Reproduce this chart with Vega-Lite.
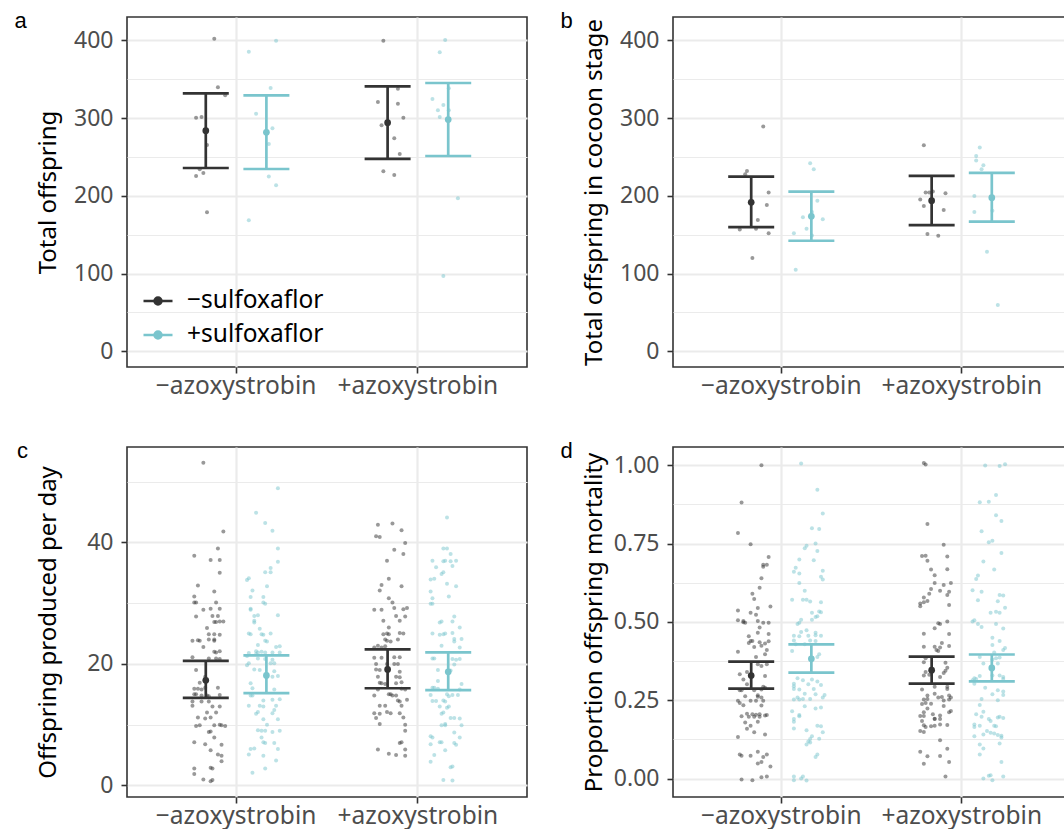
{
"$schema": "https://vega.github.io/schema/vega-lite/v6.json",
"padding": {"left": 13, "top": 9, "right": 0, "bottom": 0},
"config": {
 "font": "Noto Sans",
 "view": {"stroke": "#333333", "strokeWidth": 1.6},
 "axis": {"domain": false, "labelFont": "Noto Sans", "labelFontSize": 23, "labelColor": "#4D4D4D", "tickColor": "#333333", "tickSize": 6, "tickWidth": 1.6, "gridColor": "#EBEBEB", "titleFont": "Noto Sans", "titleFontSize": 24, "titleFontWeight": "normal", "titleColor": "#000000", "labelFlush": false, "labelOverlap": false},
 "axisX": {"labelPadding": 1, "gridWidth": 2.2, "labelFontSize": 24.5},
 "axisY": {"labelPadding": 8, "minExtent": 60, "maxExtent": 60, "titlePadding": 7}
},
"spacing": {"row": 40, "column": 31},
"columns": 2,
"resolve": {"scale": {"fill": "independent", "stroke": "independent"}, "legend": {"fill": "independent"}},
"datasets": {
"sum": [
{"p":"a","a":"−","s":"−","m":283.8,"lo":235.8,"hi":331.8},
{"p":"a","a":"−","s":"+","m":281.7,"lo":234.5,"hi":329.3},
{"p":"a","a":"+","s":"−","m":294.1,"lo":247.4,"hi":340.8},
{"p":"a","a":"+","s":"+","m":298.0,"lo":251.2,"hi":345.1},
{"p":"b","a":"−","s":"−","m":191.6,"lo":159.8,"hi":224.7},
{"p":"b","a":"−","s":"+","m":173.6,"lo":142.2,"hi":205.4},
{"p":"b","a":"+","s":"−","m":193.8,"lo":162.4,"hi":225.6},
{"p":"b","a":"+","s":"+","m":197.6,"lo":166.7,"hi":229.4},
{"p":"c","a":"−","s":"−","m":17.3,"lo":14.4,"hi":20.5},
{"p":"c","a":"−","s":"+","m":18.1,"lo":15.2,"hi":21.4},
{"p":"c","a":"+","s":"−","m":19.1,"lo":16.0,"hi":22.4},
{"p":"c","a":"+","s":"+","m":18.7,"lo":15.7,"hi":21.9},
{"p":"d","a":"−","s":"−","m":0.329,"lo":0.287,"hi":0.373},
{"p":"d","a":"−","s":"+","m":0.382,"lo":0.338,"hi":0.428},
{"p":"d","a":"+","s":"−","m":0.346,"lo":0.303,"hi":0.389},
{"p":"d","a":"+","s":"+","m":0.353,"lo":0.310,"hi":0.396}
],
"pts": [
{"p":"a","a":"−","s":"−","v":402.1,"j":0.03},{"p":"a","a":"−","s":"−","v":339.6,"j":0.05},{"p":"a","a":"−","s":"−","v":329.3,"j":0.09},{"p":"a","a":"−","s":"−","v":300.5,"j":-0.07},{"p":"a","a":"−","s":"−","v":301.4,"j":-0.04},{"p":"a","a":"−","s":"−","v":265.4,"j":-0.01},{"p":"a","a":"−","s":"−","v":234.1,"j":-0.05},{"p":"a","a":"−","s":"−","v":229.4,"j":-0.03},{"p":"a","a":"−","s":"−","v":225.5,"j":-0.07},{"p":"a","a":"−","s":"−","v":178.8,"j":-0.01},
{"p":"a","a":"−","s":"+","v":385.4,"j":-0.08},{"p":"a","a":"−","s":"+","v":399.6,"j":0.07},{"p":"a","a":"−","s":"+","v":338.7,"j":0.04},{"p":"a","a":"−","s":"+","v":305.7,"j":-0.04},{"p":"a","a":"−","s":"+","v":286.8,"j":0.05},{"p":"a","a":"−","s":"+","v":266.7,"j":0.03},{"p":"a","a":"−","s":"+","v":224.7,"j":0.03},{"p":"a","a":"−","s":"+","v":213.5,"j":0.07},{"p":"a","a":"−","s":"+","v":168.5,"j":-0.08},
{"p":"a","a":"+","s":"−","v":399.6,"j":-0.04},{"p":"a","a":"+","s":"−","v":337.8,"j":0.04},{"p":"a","a":"+","s":"−","v":320.7,"j":-0.07},{"p":"a","a":"+","s":"−","v":318.5,"j":0.04},{"p":"a","a":"+","s":"−","v":300.5,"j":0.07},{"p":"a","a":"+","s":"−","v":290.7,"j":-0.05},{"p":"a","a":"+","s":"−","v":274.0,"j":0.02},{"p":"a","a":"+","s":"−","v":253.8,"j":0.05},{"p":"a","a":"+","s":"−","v":231.5,"j":-0.04},{"p":"a","a":"+","s":"−","v":226.8,"j":0.02},
{"p":"a","a":"+","s":"+","v":400.4,"j":0.0},{"p":"a","a":"+","s":"+","v":384.6,"j":-0.03},{"p":"a","a":"+","s":"+","v":338.3,"j":0.02},{"p":"a","a":"+","s":"+","v":324.5,"j":-0.07},{"p":"a","a":"+","s":"+","v":316.8,"j":-0.01},{"p":"a","a":"+","s":"+","v":310.0,"j":-0.04},{"p":"a","a":"+","s":"+","v":310.0,"j":0.02},{"p":"a","a":"+","s":"+","v":301.4,"j":-0.03},{"p":"a","a":"+","s":"+","v":196.8,"j":0.07},{"p":"a","a":"+","s":"+","v":96.9,"j":-0.01},
{"p":"b","a":"−","s":"−","v":289.2,"j":0.05},{"p":"b","a":"−","s":"−","v":232.0,"j":-0.04},{"p":"b","a":"−","s":"−","v":227.7,"j":-0.05},{"p":"b","a":"−","s":"−","v":204.1,"j":0.08},{"p":"b","a":"−","s":"−","v":188.2,"j":0.07},{"p":"b","a":"−","s":"−","v":168.8,"j":0.02},{"p":"b","a":"−","s":"−","v":156.8,"j":-0.08},{"p":"b","a":"−","s":"−","v":157.7,"j":0.01},{"p":"b","a":"−","s":"−","v":151.7,"j":0.08},{"p":"b","a":"−","s":"−","v":119.9,"j":-0.01},
{"p":"b","a":"−","s":"+","v":241.9,"j":0.01},{"p":"b","a":"−","s":"+","v":234.2,"j":0.03},{"p":"b","a":"−","s":"+","v":193.8,"j":0.05},{"p":"b","a":"−","s":"+","v":179.2,"j":0.02},{"p":"b","a":"−","s":"+","v":172.3,"j":-0.03},{"p":"b","a":"−","s":"+","v":169.7,"j":0.08},{"p":"b","a":"−","s":"+","v":151.7,"j":-0.08},{"p":"b","a":"−","s":"+","v":157.7,"j":-0.01},{"p":"b","a":"−","s":"+","v":149.1,"j":0.02},{"p":"b","a":"−","s":"+","v":104.8,"j":-0.07},
{"p":"b","a":"+","s":"−","v":265.1,"j":-0.06},{"p":"b","a":"+","s":"−","v":204.1,"j":-0.05},{"p":"b","a":"+","s":"−","v":204.1,"j":-0.03},{"p":"b","a":"+","s":"−","v":205.4,"j":-0.01},{"p":"b","a":"+","s":"−","v":203.2,"j":0.06},{"p":"b","a":"+","s":"−","v":195.1,"j":-0.08},{"p":"b","a":"+","s":"−","v":186.9,"j":-0.06},{"p":"b","a":"+","s":"−","v":181.7,"j":0.05},{"p":"b","a":"+","s":"−","v":150.8,"j":-0.04},{"p":"b","a":"+","s":"−","v":148.7,"j":0.02},
{"p":"b","a":"+","s":"+","v":262.1,"j":-0.05},{"p":"b","a":"+","s":"+","v":251.3,"j":-0.07},{"p":"b","a":"+","s":"+","v":245.3,"j":-0.07},{"p":"b","a":"+","s":"+","v":239.3,"j":-0.03},{"p":"b","a":"+","s":"+","v":234.2,"j":-0.04},{"p":"b","a":"+","s":"+","v":199.8,"j":-0.08},{"p":"b","a":"+","s":"+","v":180.9,"j":0.02},{"p":"b","a":"+","s":"+","v":179.2,"j":-0.08},{"p":"b","a":"+","s":"+","v":128.0,"j":-0.01},{"p":"b","a":"+","s":"+","v":59.7,"j":0.05},
{"p":"c","a":"−","s":"−","v":53.1,"j":-0.03},{"p":"c","a":"−","s":"−","v":41.8,"j":0.08},{"p":"c","a":"−","s":"−","v":39.0,"j":0.05},{"p":"c","a":"−","s":"−","v":37.8,"j":-0.08},{"p":"c","a":"−","s":"−","v":37.1,"j":0.01},{"p":"c","a":"−","s":"−","v":37.1,"j":0.06},{"p":"c","a":"−","s":"−","v":35.0,"j":0.06},{"p":"c","a":"−","s":"−","v":32.9,"j":-0.06},{"p":"c","a":"−","s":"−","v":31.9,"j":0.03},{"p":"c","a":"−","s":"−","v":31.1,"j":-0.08},
{"p":"c","a":"−","s":"−","v":30.1,"j":-0.08},{"p":"c","a":"−","s":"−","v":30.1,"j":-0.07},{"p":"c","a":"−","s":"−","v":30.1,"j":0.04},{"p":"c","a":"−","s":"−","v":29.1,"j":0.01},{"p":"c","a":"−","s":"−","v":29.1,"j":0.06},{"p":"c","a":"−","s":"−","v":28.9,"j":-0.03},{"p":"c","a":"−","s":"−","v":27.9,"j":0.02},{"p":"c","a":"−","s":"−","v":27.9,"j":0.05},{"p":"c","a":"−","s":"−","v":27.8,"j":-0.07},{"p":"c","a":"−","s":"−","v":26.9,"j":0.03},
{"p":"c","a":"−","s":"−","v":26.9,"j":0.04},{"p":"c","a":"−","s":"−","v":27.0,"j":0.06},{"p":"c","a":"−","s":"−","v":27.0,"j":0.08},{"p":"c","a":"−","s":"−","v":25.9,"j":-0.01},{"p":"c","a":"−","s":"−","v":24.9,"j":0.0},{"p":"c","a":"−","s":"−","v":24.9,"j":0.03},{"p":"c","a":"−","s":"−","v":24.8,"j":0.06},{"p":"c","a":"−","s":"−","v":23.8,"j":-0.09},{"p":"c","a":"−","s":"−","v":23.9,"j":-0.06},{"p":"c","a":"−","s":"−","v":23.8,"j":-0.05},
{"p":"c","a":"−","s":"−","v":24.0,"j":0.0},{"p":"c","a":"−","s":"−","v":23.8,"j":0.03},{"p":"c","a":"−","s":"−","v":24.0,"j":0.03},{"p":"c","a":"−","s":"−","v":22.8,"j":-0.03},{"p":"c","a":"−","s":"−","v":22.0,"j":0.03},{"p":"c","a":"−","s":"−","v":21.9,"j":0.04},{"p":"c","a":"−","s":"−","v":22.1,"j":0.06},{"p":"c","a":"−","s":"−","v":20.9,"j":0.0},{"p":"c","a":"−","s":"−","v":20.9,"j":0.04},{"p":"c","a":"−","s":"−","v":20.8,"j":0.06},
{"p":"c","a":"−","s":"−","v":21.1,"j":-0.09},{"p":"c","a":"−","s":"−","v":19.0,"j":-0.07},{"p":"c","a":"−","s":"−","v":17.9,"j":-0.02},{"p":"c","a":"−","s":"−","v":17.4,"j":-0.02},{"p":"c","a":"−","s":"−","v":16.9,"j":-0.05},{"p":"c","a":"−","s":"−","v":15.9,"j":-0.08},{"p":"c","a":"−","s":"−","v":15.9,"j":-0.06},{"p":"c","a":"−","s":"−","v":15.8,"j":-0.04},{"p":"c","a":"−","s":"−","v":16.1,"j":-0.02},{"p":"c","a":"−","s":"−","v":16.1,"j":0.05},
{"p":"c","a":"−","s":"−","v":15.0,"j":-0.08},{"p":"c","a":"−","s":"−","v":15.0,"j":-0.07},{"p":"c","a":"−","s":"−","v":14.8,"j":-0.04},{"p":"c","a":"−","s":"−","v":14.8,"j":-0.01},{"p":"c","a":"−","s":"−","v":14.7,"j":0.0},{"p":"c","a":"−","s":"−","v":14.9,"j":0.06},{"p":"c","a":"−","s":"−","v":13.8,"j":-0.09},{"p":"c","a":"−","s":"−","v":13.8,"j":-0.04},{"p":"c","a":"−","s":"−","v":13.8,"j":0.0},{"p":"c","a":"−","s":"−","v":13.0,"j":0.02},
{"p":"c","a":"−","s":"−","v":13.0,"j":0.06},{"p":"c","a":"−","s":"−","v":13.1,"j":-0.09},{"p":"c","a":"−","s":"−","v":12.0,"j":-0.01},{"p":"c","a":"−","s":"−","v":12.0,"j":0.04},{"p":"c","a":"−","s":"−","v":11.2,"j":-0.06},{"p":"c","a":"−","s":"−","v":11.2,"j":0.01},{"p":"c","a":"−","s":"−","v":11.0,"j":-0.02},{"p":"c","a":"−","s":"−","v":9.9,"j":-0.05},{"p":"c","a":"−","s":"−","v":9.8,"j":-0.07},{"p":"c","a":"−","s":"−","v":9.9,"j":0.03},
{"p":"c","a":"−","s":"−","v":10.0,"j":0.06},{"p":"c","a":"−","s":"−","v":9.9,"j":0.07},{"p":"c","a":"−","s":"−","v":9.8,"j":0.09},{"p":"c","a":"−","s":"−","v":8.8,"j":0.0},{"p":"c","a":"−","s":"−","v":8.9,"j":0.01},{"p":"c","a":"−","s":"−","v":7.9,"j":0.03},{"p":"c","a":"−","s":"−","v":7.1,"j":-0.08},{"p":"c","a":"−","s":"−","v":6.8,"j":-0.02},{"p":"c","a":"−","s":"−","v":6.7,"j":0.07},{"p":"c","a":"−","s":"−","v":5.8,"j":0.01},
{"p":"c","a":"−","s":"−","v":5.1,"j":0.05},{"p":"c","a":"−","s":"−","v":4.9,"j":0.07},{"p":"c","a":"−","s":"−","v":4.0,"j":0.07},{"p":"c","a":"−","s":"−","v":2.8,"j":-0.08},{"p":"c","a":"−","s":"−","v":1.9,"j":-0.08},{"p":"c","a":"−","s":"−","v":2.9,"j":0.01},{"p":"c","a":"−","s":"−","v":2.8,"j":0.02},{"p":"c","a":"−","s":"−","v":1.0,"j":-0.03},{"p":"c","a":"−","s":"−","v":0.7,"j":0.01},{"p":"c","a":"−","s":"−","v":0.9,"j":0.02},
{"p":"c","a":"−","s":"+","v":48.9,"j":0.08},{"p":"c","a":"−","s":"+","v":44.9,"j":-0.04},{"p":"c","a":"−","s":"+","v":43.2,"j":0.01},{"p":"c","a":"−","s":"+","v":41.9,"j":0.05},{"p":"c","a":"−","s":"+","v":39.0,"j":0.08},{"p":"c","a":"−","s":"+","v":36.8,"j":0.08},{"p":"c","a":"−","s":"+","v":35.8,"j":0.04},{"p":"c","a":"−","s":"+","v":35.1,"j":0.01},{"p":"c","a":"−","s":"+","v":35.1,"j":0.04},{"p":"c","a":"−","s":"+","v":34.1,"j":-0.08},
{"p":"c","a":"−","s":"+","v":33.8,"j":-0.09},{"p":"c","a":"−","s":"+","v":32.8,"j":0.02},{"p":"c","a":"−","s":"+","v":32.1,"j":-0.06},{"p":"c","a":"−","s":"+","v":31.0,"j":-0.07},{"p":"c","a":"−","s":"+","v":31.0,"j":0.0},{"p":"c","a":"−","s":"+","v":30.1,"j":0.0},{"p":"c","a":"−","s":"+","v":29.9,"j":0.01},{"p":"c","a":"−","s":"+","v":29.1,"j":-0.07},{"p":"c","a":"−","s":"+","v":28.9,"j":-0.07},{"p":"c","a":"−","s":"+","v":28.0,"j":0.08},
{"p":"c","a":"−","s":"+","v":28.0,"j":-0.03},{"p":"c","a":"−","s":"+","v":27.9,"j":-0.05},{"p":"c","a":"−","s":"+","v":27.1,"j":-0.05},{"p":"c","a":"−","s":"+","v":26.8,"j":-0.05},{"p":"c","a":"−","s":"+","v":25.8,"j":-0.02},{"p":"c","a":"−","s":"+","v":25.0,"j":-0.08},{"p":"c","a":"−","s":"+","v":24.9,"j":-0.07},{"p":"c","a":"−","s":"+","v":24.9,"j":-0.01},{"p":"c","a":"−","s":"+","v":24.8,"j":0.0},{"p":"c","a":"−","s":"+","v":25.0,"j":0.04},
{"p":"c","a":"−","s":"+","v":23.8,"j":0.01},{"p":"c","a":"−","s":"+","v":23.7,"j":0.02},{"p":"c","a":"−","s":"+","v":23.1,"j":-0.03},{"p":"c","a":"−","s":"+","v":22.8,"j":0.07},{"p":"c","a":"−","s":"+","v":22.9,"j":0.09},{"p":"c","a":"−","s":"+","v":22.1,"j":-0.04},{"p":"c","a":"−","s":"+","v":21.9,"j":-0.03},{"p":"c","a":"−","s":"+","v":22.0,"j":-0.01},{"p":"c","a":"−","s":"+","v":21.9,"j":0.01},{"p":"c","a":"−","s":"+","v":21.6,"j":-0.04},
{"p":"c","a":"−","s":"+","v":21.3,"j":-0.09},{"p":"c","a":"−","s":"+","v":21.8,"j":-0.08},{"p":"c","a":"−","s":"+","v":21.9,"j":0.05},{"p":"c","a":"−","s":"+","v":21.9,"j":0.09},{"p":"c","a":"−","s":"+","v":20.9,"j":-0.03},{"p":"c","a":"−","s":"+","v":20.8,"j":0.01},{"p":"c","a":"−","s":"+","v":20.7,"j":0.05},{"p":"c","a":"−","s":"+","v":19.8,"j":-0.09},{"p":"c","a":"−","s":"+","v":20.1,"j":-0.08},{"p":"c","a":"−","s":"+","v":20.1,"j":0.04},
{"p":"c","a":"−","s":"+","v":20.1,"j":0.06},{"p":"c","a":"−","s":"+","v":19.1,"j":-0.05},{"p":"c","a":"−","s":"+","v":19.0,"j":-0.02},{"p":"c","a":"−","s":"+","v":18.8,"j":0.06},{"p":"c","a":"−","s":"+","v":18.0,"j":0.02},{"p":"c","a":"−","s":"+","v":17.9,"j":0.05},{"p":"c","a":"−","s":"+","v":18.0,"j":0.08},{"p":"c","a":"−","s":"+","v":16.8,"j":-0.07},{"p":"c","a":"−","s":"+","v":16.0,"j":-0.06},{"p":"c","a":"−","s":"+","v":15.8,"j":0.06},
{"p":"c","a":"−","s":"+","v":14.8,"j":-0.07},{"p":"c","a":"−","s":"+","v":14.8,"j":-0.06},{"p":"c","a":"−","s":"+","v":14.1,"j":0.05},{"p":"c","a":"−","s":"+","v":14.2,"j":0.09},{"p":"c","a":"−","s":"+","v":14.0,"j":0.0},{"p":"c","a":"−","s":"+","v":13.1,"j":-0.08},{"p":"c","a":"−","s":"+","v":13.1,"j":-0.02},{"p":"c","a":"−","s":"+","v":13.0,"j":0.0},{"p":"c","a":"−","s":"+","v":13.1,"j":0.07},{"p":"c","a":"−","s":"+","v":12.4,"j":0.06},
{"p":"c","a":"−","s":"+","v":11.8,"j":-0.04},{"p":"c","a":"−","s":"+","v":12.1,"j":-0.03},{"p":"c","a":"−","s":"+","v":10.9,"j":0.0},{"p":"c","a":"−","s":"+","v":11.9,"j":0.05},{"p":"c","a":"−","s":"+","v":10.9,"j":0.08},{"p":"c","a":"−","s":"+","v":10.0,"j":0.02},{"p":"c","a":"−","s":"+","v":9.1,"j":-0.03},{"p":"c","a":"−","s":"+","v":9.0,"j":-0.01},{"p":"c","a":"−","s":"+","v":9.0,"j":0.01},{"p":"c","a":"−","s":"+","v":8.8,"j":0.05},
{"p":"c","a":"−","s":"+","v":9.0,"j":0.09},{"p":"c","a":"−","s":"+","v":7.9,"j":-0.01},{"p":"c","a":"−","s":"+","v":7.1,"j":0.0},{"p":"c","a":"−","s":"+","v":7.0,"j":0.01},{"p":"c","a":"−","s":"+","v":7.0,"j":0.06},{"p":"c","a":"−","s":"+","v":6.0,"j":-0.07},{"p":"c","a":"−","s":"+","v":6.1,"j":-0.05},{"p":"c","a":"−","s":"+","v":5.1,"j":-0.08},{"p":"c","a":"−","s":"+","v":6.0,"j":0.08},{"p":"c","a":"−","s":"+","v":4.9,"j":0.0},
{"p":"c","a":"−","s":"+","v":4.1,"j":0.07},{"p":"c","a":"−","s":"+","v":2.8,"j":0.01},{"p":"c","a":"−","s":"+","v":2.1,"j":-0.06},
{"p":"c","a":"+","s":"−","v":42.9,"j":-0.07},{"p":"c","a":"+","s":"−","v":43.1,"j":0.01},{"p":"c","a":"+","s":"−","v":42.0,"j":0.06},{"p":"c","a":"+","s":"−","v":41.0,"j":-0.08},{"p":"c","a":"+","s":"−","v":40.9,"j":-0.06},{"p":"c","a":"+","s":"−","v":39.9,"j":0.08},{"p":"c","a":"+","s":"−","v":38.8,"j":0.02},{"p":"c","a":"+","s":"−","v":38.1,"j":0.07},{"p":"c","a":"+","s":"−","v":37.0,"j":-0.02},{"p":"c","a":"+","s":"−","v":34.0,"j":-0.01},
{"p":"c","a":"+","s":"−","v":33.0,"j":-0.05},{"p":"c","a":"+","s":"−","v":32.1,"j":-0.06},{"p":"c","a":"+","s":"−","v":32.8,"j":0.06},{"p":"c","a":"+","s":"−","v":30.8,"j":-0.01},{"p":"c","a":"+","s":"−","v":30.1,"j":0.01},{"p":"c","a":"+","s":"−","v":28.9,"j":-0.09},{"p":"c","a":"+","s":"−","v":28.9,"j":-0.05},{"p":"c","a":"+","s":"−","v":29.2,"j":0.02},{"p":"c","a":"+","s":"−","v":29.0,"j":0.07},{"p":"c","a":"+","s":"−","v":29.2,"j":0.09},
{"p":"c","a":"+","s":"−","v":27.9,"j":0.03},{"p":"c","a":"+","s":"−","v":27.8,"j":0.08},{"p":"c","a":"+","s":"−","v":27.1,"j":-0.04},{"p":"c","a":"+","s":"−","v":27.1,"j":0.05},{"p":"c","a":"+","s":"−","v":26.0,"j":-0.01},{"p":"c","a":"+","s":"−","v":24.9,"j":-0.04},{"p":"c","a":"+","s":"−","v":25.0,"j":-0.02},{"p":"c","a":"+","s":"−","v":24.9,"j":-0.01},{"p":"c","a":"+","s":"−","v":25.1,"j":0.05},{"p":"c","a":"+","s":"−","v":25.0,"j":0.07},
{"p":"c","a":"+","s":"−","v":24.0,"j":-0.03},{"p":"c","a":"+","s":"−","v":23.8,"j":-0.02},{"p":"c","a":"+","s":"−","v":23.7,"j":0.0},{"p":"c","a":"+","s":"−","v":24.0,"j":0.04},{"p":"c","a":"+","s":"−","v":22.7,"j":-0.09},{"p":"c","a":"+","s":"−","v":23.0,"j":-0.07},{"p":"c","a":"+","s":"−","v":22.7,"j":-0.05},{"p":"c","a":"+","s":"−","v":22.9,"j":-0.03},{"p":"c","a":"+","s":"−","v":21.0,"j":-0.09},{"p":"c","a":"+","s":"−","v":21.0,"j":-0.05},
{"p":"c","a":"+","s":"−","v":21.1,"j":0.02},{"p":"c","a":"+","s":"−","v":21.1,"j":0.05},{"p":"c","a":"+","s":"−","v":20.0,"j":-0.08},{"p":"c","a":"+","s":"−","v":20.0,"j":-0.02},{"p":"c","a":"+","s":"−","v":20.0,"j":0.02},{"p":"c","a":"+","s":"−","v":20.0,"j":0.04},{"p":"c","a":"+","s":"−","v":19.1,"j":-0.08},{"p":"c","a":"+","s":"−","v":19.0,"j":-0.06},{"p":"c","a":"+","s":"−","v":18.7,"j":0.05},{"p":"c","a":"+","s":"−","v":17.9,"j":-0.07},
{"p":"c","a":"+","s":"−","v":17.9,"j":0.03},{"p":"c","a":"+","s":"−","v":17.8,"j":0.05},{"p":"c","a":"+","s":"−","v":16.9,"j":-0.06},{"p":"c","a":"+","s":"−","v":16.8,"j":-0.05},{"p":"c","a":"+","s":"−","v":16.7,"j":-0.03},{"p":"c","a":"+","s":"−","v":16.8,"j":0.03},{"p":"c","a":"+","s":"−","v":17.0,"j":0.06},{"p":"c","a":"+","s":"−","v":15.8,"j":-0.07},{"p":"c","a":"+","s":"−","v":15.9,"j":0.06},{"p":"c","a":"+","s":"−","v":15.8,"j":0.08},
{"p":"c","a":"+","s":"−","v":14.8,"j":-0.09},{"p":"c","a":"+","s":"−","v":15.0,"j":-0.01},{"p":"c","a":"+","s":"−","v":15.0,"j":0.0},{"p":"c","a":"+","s":"−","v":14.8,"j":0.01},{"p":"c","a":"+","s":"−","v":14.8,"j":0.03},{"p":"c","a":"+","s":"−","v":14.0,"j":0.04},{"p":"c","a":"+","s":"−","v":13.8,"j":0.05},{"p":"c","a":"+","s":"−","v":14.1,"j":0.09},{"p":"c","a":"+","s":"−","v":13.1,"j":-0.06},{"p":"c","a":"+","s":"−","v":13.1,"j":-0.03},
{"p":"c","a":"+","s":"−","v":13.1,"j":0.06},{"p":"c","a":"+","s":"−","v":11.9,"j":-0.09},{"p":"c","a":"+","s":"−","v":11.8,"j":-0.06},{"p":"c","a":"+","s":"−","v":12.1,"j":-0.02},{"p":"c","a":"+","s":"−","v":11.9,"j":0.0},{"p":"c","a":"+","s":"−","v":11.9,"j":0.05},{"p":"c","a":"+","s":"−","v":11.1,"j":-0.08},{"p":"c","a":"+","s":"−","v":11.2,"j":0.07},{"p":"c","a":"+","s":"−","v":10.1,"j":-0.06},{"p":"c","a":"+","s":"−","v":10.0,"j":0.08},
{"p":"c","a":"+","s":"−","v":9.0,"j":0.08},{"p":"c","a":"+","s":"−","v":7.0,"j":0.05},{"p":"c","a":"+","s":"−","v":7.1,"j":0.06},{"p":"c","a":"+","s":"−","v":5.9,"j":-0.07},{"p":"c","a":"+","s":"−","v":5.9,"j":0.08},{"p":"c","a":"+","s":"−","v":5.2,"j":-0.01},{"p":"c","a":"+","s":"−","v":5.0,"j":0.03},{"p":"c","a":"+","s":"−","v":4.9,"j":0.08},
{"p":"c","a":"+","s":"+","v":44.1,"j":0.01},{"p":"c","a":"+","s":"+","v":39.0,"j":-0.01},{"p":"c","a":"+","s":"+","v":39.0,"j":0.01},{"p":"c","a":"+","s":"+","v":38.1,"j":0.03},{"p":"c","a":"+","s":"+","v":37.0,"j":-0.07},{"p":"c","a":"+","s":"+","v":36.9,"j":-0.01},{"p":"c","a":"+","s":"+","v":37.0,"j":0.0},{"p":"c","a":"+","s":"+","v":36.9,"j":0.03},{"p":"c","a":"+","s":"+","v":37.0,"j":0.06},{"p":"c","a":"+","s":"+","v":35.9,"j":-0.05},
{"p":"c","a":"+","s":"+","v":36.1,"j":0.04},{"p":"c","a":"+","s":"+","v":35.1,"j":-0.01},{"p":"c","a":"+","s":"+","v":34.8,"j":-0.02},{"p":"c","a":"+","s":"+","v":33.9,"j":-0.08},{"p":"c","a":"+","s":"+","v":34.0,"j":-0.06},{"p":"c","a":"+","s":"+","v":33.2,"j":0.01},{"p":"c","a":"+","s":"+","v":32.8,"j":0.06},{"p":"c","a":"+","s":"+","v":31.9,"j":-0.08},{"p":"c","a":"+","s":"+","v":31.1,"j":0.02},{"p":"c","a":"+","s":"+","v":30.8,"j":-0.07},
{"p":"c","a":"+","s":"+","v":29.9,"j":-0.08},{"p":"c","a":"+","s":"+","v":29.9,"j":-0.07},{"p":"c","a":"+","s":"+","v":27.8,"j":0.05},{"p":"c","a":"+","s":"+","v":26.8,"j":-0.03},{"p":"c","a":"+","s":"+","v":27.0,"j":-0.02},{"p":"c","a":"+","s":"+","v":27.0,"j":0.04},{"p":"c","a":"+","s":"+","v":26.0,"j":0.08},{"p":"c","a":"+","s":"+","v":25.0,"j":-0.07},{"p":"c","a":"+","s":"+","v":24.8,"j":-0.03},{"p":"c","a":"+","s":"+","v":24.9,"j":-0.01},
{"p":"c","a":"+","s":"+","v":25.0,"j":0.0},{"p":"c","a":"+","s":"+","v":25.1,"j":0.04},{"p":"c","a":"+","s":"+","v":24.1,"j":0.05},{"p":"c","a":"+","s":"+","v":23.7,"j":0.05},{"p":"c","a":"+","s":"+","v":24.1,"j":0.09},{"p":"c","a":"+","s":"+","v":23.0,"j":-0.02},{"p":"c","a":"+","s":"+","v":22.7,"j":0.08},{"p":"c","a":"+","s":"+","v":20.9,"j":-0.07},{"p":"c","a":"+","s":"+","v":20.9,"j":-0.06},{"p":"c","a":"+","s":"+","v":20.8,"j":0.04},
{"p":"c","a":"+","s":"+","v":20.7,"j":0.06},{"p":"c","a":"+","s":"+","v":20.8,"j":0.08},{"p":"c","a":"+","s":"+","v":19.9,"j":0.05},{"p":"c","a":"+","s":"+","v":19.0,"j":-0.04},{"p":"c","a":"+","s":"+","v":18.9,"j":0.03},{"p":"c","a":"+","s":"+","v":17.2,"j":-0.04},{"p":"c","a":"+","s":"+","v":16.7,"j":0.09},{"p":"c","a":"+","s":"+","v":16.1,"j":-0.07},{"p":"c","a":"+","s":"+","v":16.1,"j":-0.06},{"p":"c","a":"+","s":"+","v":15.9,"j":-0.04},
{"p":"c","a":"+","s":"+","v":15.8,"j":0.08},{"p":"c","a":"+","s":"+","v":14.9,"j":-0.08},{"p":"c","a":"+","s":"+","v":15.0,"j":0.01},{"p":"c","a":"+","s":"+","v":14.7,"j":0.02},{"p":"c","a":"+","s":"+","v":14.9,"j":0.04},{"p":"c","a":"+","s":"+","v":14.9,"j":0.07},{"p":"c","a":"+","s":"+","v":13.9,"j":-0.07},{"p":"c","a":"+","s":"+","v":13.9,"j":-0.05},{"p":"c","a":"+","s":"+","v":14.0,"j":-0.01},{"p":"c","a":"+","s":"+","v":13.8,"j":0.0},
{"p":"c","a":"+","s":"+","v":13.0,"j":-0.03},{"p":"c","a":"+","s":"+","v":12.8,"j":0.01},{"p":"c","a":"+","s":"+","v":13.0,"j":0.02},{"p":"c","a":"+","s":"+","v":11.8,"j":-0.02},{"p":"c","a":"+","s":"+","v":12.0,"j":-0.01},{"p":"c","a":"+","s":"+","v":11.1,"j":0.03},{"p":"c","a":"+","s":"+","v":11.1,"j":0.05},{"p":"c","a":"+","s":"+","v":11.0,"j":0.08},{"p":"c","a":"+","s":"+","v":9.9,"j":-0.02},{"p":"c","a":"+","s":"+","v":9.9,"j":0.0},
{"p":"c","a":"+","s":"+","v":10.1,"j":0.0},{"p":"c","a":"+","s":"+","v":9.9,"j":0.09},{"p":"c","a":"+","s":"+","v":8.7,"j":0.05},{"p":"c","a":"+","s":"+","v":7.9,"j":0.08},{"p":"c","a":"+","s":"+","v":8.1,"j":-0.08},{"p":"c","a":"+","s":"+","v":7.9,"j":-0.07},{"p":"c","a":"+","s":"+","v":6.8,"j":-0.08},{"p":"c","a":"+","s":"+","v":7.1,"j":-0.03},{"p":"c","a":"+","s":"+","v":7.1,"j":-0.02},{"p":"c","a":"+","s":"+","v":7.0,"j":0.05},
{"p":"c","a":"+","s":"+","v":6.7,"j":0.06},{"p":"c","a":"+","s":"+","v":5.8,"j":0.0},{"p":"c","a":"+","s":"+","v":5.0,"j":-0.06},{"p":"c","a":"+","s":"+","v":3.9,"j":-0.08},{"p":"c","a":"+","s":"+","v":3.0,"j":0.03},{"p":"c","a":"+","s":"+","v":3.1,"j":0.04},{"p":"c","a":"+","s":"+","v":0.9,"j":-0.01},{"p":"c","a":"+","s":"+","v":0.8,"j":0.04},
{"p":"d","a":"−","s":"−","v":1.0,"j":0.04},{"p":"d","a":"−","s":"−","v":0.881,"j":-0.07},{"p":"d","a":"−","s":"−","v":0.784,"j":-0.09},{"p":"d","a":"−","s":"−","v":0.748,"j":-0.02},{"p":"d","a":"−","s":"−","v":0.707,"j":0.08},{"p":"d","a":"−","s":"−","v":0.682,"j":0.05},{"p":"d","a":"−","s":"−","v":0.682,"j":0.07},{"p":"d","a":"−","s":"−","v":0.676,"j":0.05},{"p":"d","a":"−","s":"−","v":0.639,"j":0.04},{"p":"d","a":"−","s":"−","v":0.609,"j":0.03},
{"p":"d","a":"−","s":"−","v":0.59,"j":-0.01},{"p":"d","a":"−","s":"−","v":0.573,"j":0.0},{"p":"d","a":"−","s":"−","v":0.536,"j":-0.09},{"p":"d","a":"−","s":"−","v":0.529,"j":-0.02},{"p":"d","a":"−","s":"−","v":0.523,"j":0.01},{"p":"d","a":"−","s":"−","v":0.544,"j":0.02},{"p":"d","a":"−","s":"−","v":0.549,"j":0.09},{"p":"d","a":"−","s":"−","v":0.505,"j":-0.09},{"p":"d","a":"−","s":"−","v":0.503,"j":-0.06},{"p":"d","a":"−","s":"−","v":0.497,"j":-0.05},
{"p":"d","a":"−","s":"−","v":0.499,"j":-0.06},{"p":"d","a":"−","s":"−","v":0.503,"j":0.02},{"p":"d","a":"−","s":"−","v":0.497,"j":0.05},{"p":"d","a":"−","s":"−","v":0.497,"j":0.08},{"p":"d","a":"−","s":"−","v":0.482,"j":0.03},{"p":"d","a":"−","s":"−","v":0.465,"j":0.02},{"p":"d","a":"−","s":"−","v":0.461,"j":0.08},{"p":"d","a":"−","s":"−","v":0.454,"j":-0.03},{"p":"d","a":"−","s":"−","v":0.439,"j":-0.02},{"p":"d","a":"−","s":"−","v":0.439,"j":-0.01},
{"p":"d","a":"−","s":"−","v":0.433,"j":-0.03},{"p":"d","a":"−","s":"−","v":0.435,"j":0.03},{"p":"d","a":"−","s":"−","v":0.431,"j":0.06},{"p":"d","a":"−","s":"−","v":0.424,"j":0.04},{"p":"d","a":"−","s":"−","v":0.438,"j":0.08},{"p":"d","a":"−","s":"−","v":0.41,"j":0.07},{"p":"d","a":"−","s":"−","v":0.42,"j":0.0},{"p":"d","a":"−","s":"−","v":0.405,"j":-0.09},{"p":"d","a":"−","s":"−","v":0.397,"j":0.06},{"p":"d","a":"−","s":"−","v":0.388,"j":0.01},
{"p":"d","a":"−","s":"−","v":0.365,"j":0.02},{"p":"d","a":"−","s":"−","v":0.359,"j":0.04},{"p":"d","a":"−","s":"−","v":0.365,"j":0.07},{"p":"d","a":"−","s":"−","v":0.34,"j":-0.04},{"p":"d","a":"−","s":"−","v":0.333,"j":-0.08},{"p":"d","a":"−","s":"−","v":0.327,"j":0.06},{"p":"d","a":"−","s":"−","v":0.316,"j":-0.06},{"p":"d","a":"−","s":"−","v":0.301,"j":-0.04},{"p":"d","a":"−","s":"−","v":0.293,"j":0.05},{"p":"d","a":"−","s":"−","v":0.29,"j":0.06},
{"p":"d","a":"−","s":"−","v":0.284,"j":0.04},{"p":"d","a":"−","s":"−","v":0.282,"j":-0.08},{"p":"d","a":"−","s":"−","v":0.282,"j":-0.07},{"p":"d","a":"−","s":"−","v":0.282,"j":0.0},{"p":"d","a":"−","s":"−","v":0.263,"j":-0.05},{"p":"d","a":"−","s":"−","v":0.266,"j":0.02},{"p":"d","a":"−","s":"−","v":0.261,"j":0.02},{"p":"d","a":"−","s":"−","v":0.259,"j":0.04},{"p":"d","a":"−","s":"−","v":0.248,"j":-0.09},{"p":"d","a":"−","s":"−","v":0.241,"j":-0.08},
{"p":"d","a":"−","s":"−","v":0.248,"j":-0.02},{"p":"d","a":"−","s":"−","v":0.248,"j":0.01},{"p":"d","a":"−","s":"−","v":0.248,"j":0.05},{"p":"d","a":"−","s":"−","v":0.234,"j":-0.06},{"p":"d","a":"−","s":"−","v":0.233,"j":0.04},{"p":"d","a":"−","s":"−","v":0.199,"j":-0.07},{"p":"d","a":"−","s":"−","v":0.207,"j":-0.04},{"p":"d","a":"−","s":"−","v":0.197,"j":-0.03},{"p":"d","a":"−","s":"−","v":0.205,"j":-0.01},{"p":"d","a":"−","s":"−","v":0.197,"j":0.0},
{"p":"d","a":"−","s":"−","v":0.204,"j":0.01},{"p":"d","a":"−","s":"−","v":0.205,"j":0.03},{"p":"d","a":"−","s":"−","v":0.201,"j":0.06},{"p":"d","a":"−","s":"−","v":0.203,"j":0.07},{"p":"d","a":"−","s":"−","v":0.197,"j":0.03},{"p":"d","a":"−","s":"−","v":0.179,"j":-0.05},{"p":"d","a":"−","s":"−","v":0.169,"j":-0.02},{"p":"d","a":"−","s":"−","v":0.181,"j":0.02},{"p":"d","a":"−","s":"−","v":0.159,"j":-0.04},{"p":"d","a":"−","s":"−","v":0.148,"j":0.0},
{"p":"d","a":"−","s":"−","v":0.141,"j":0.06},{"p":"d","a":"−","s":"−","v":0.133,"j":-0.09},{"p":"d","a":"−","s":"−","v":0.077,"j":-0.08},{"p":"d","a":"−","s":"−","v":0.073,"j":-0.07},{"p":"d","a":"−","s":"−","v":0.073,"j":-0.02},{"p":"d","a":"−","s":"−","v":0.086,"j":0.02},{"p":"d","a":"−","s":"−","v":0.069,"j":0.05},{"p":"d","a":"−","s":"−","v":0.077,"j":0.07},{"p":"d","a":"−","s":"−","v":0.048,"j":0.02},{"p":"d","a":"−","s":"−","v":0.053,"j":0.04},
{"p":"d","a":"−","s":"−","v":0.039,"j":0.09},{"p":"d","a":"−","s":"−","v":-0.003,"j":-0.07},{"p":"d","a":"−","s":"−","v":-0.005,"j":-0.01},{"p":"d","a":"−","s":"−","v":0.004,"j":0.04},{"p":"d","a":"−","s":"−","v":0.007,"j":0.07},
{"p":"d","a":"−","s":"+","v":1.005,"j":-0.04},{"p":"d","a":"−","s":"+","v":0.922,"j":0.05},{"p":"d","a":"−","s":"+","v":0.846,"j":0.08},{"p":"d","a":"−","s":"+","v":0.799,"j":0.02},{"p":"d","a":"−","s":"+","v":0.796,"j":0.06},{"p":"d","a":"−","s":"+","v":0.75,"j":0.04},{"p":"d","a":"−","s":"+","v":0.743,"j":-0.01},{"p":"d","a":"−","s":"+","v":0.735,"j":-0.02},{"p":"d","a":"−","s":"+","v":0.726,"j":0.05},{"p":"d","a":"−","s":"+","v":0.699,"j":-0.05},
{"p":"d","a":"−","s":"+","v":0.697,"j":0.03},{"p":"d","a":"−","s":"+","v":0.673,"j":-0.07},{"p":"d","a":"−","s":"+","v":0.663,"j":0.08},{"p":"d","a":"−","s":"+","v":0.66,"j":-0.08},{"p":"d","a":"−","s":"+","v":0.654,"j":-0.05},{"p":"d","a":"−","s":"+","v":0.644,"j":0.07},{"p":"d","a":"−","s":"+","v":0.635,"j":0.08},{"p":"d","a":"−","s":"+","v":0.624,"j":-0.05},{"p":"d","a":"−","s":"+","v":0.599,"j":-0.02},{"p":"d","a":"−","s":"+","v":0.571,"j":-0.09},
{"p":"d","a":"−","s":"+","v":0.571,"j":-0.03},{"p":"d","a":"−","s":"+","v":0.571,"j":-0.01},{"p":"d","a":"−","s":"+","v":0.565,"j":0.01},{"p":"d","a":"−","s":"+","v":0.563,"j":0.07},{"p":"d","a":"−","s":"+","v":0.529,"j":0.02},{"p":"d","a":"−","s":"+","v":0.533,"j":0.06},{"p":"d","a":"−","s":"+","v":0.531,"j":0.07},{"p":"d","a":"−","s":"+","v":0.518,"j":0.05},{"p":"d","a":"−","s":"+","v":0.516,"j":0.04},{"p":"d","a":"−","s":"+","v":0.507,"j":-0.04},
{"p":"d","a":"−","s":"+","v":0.497,"j":-0.05},{"p":"d","a":"−","s":"+","v":0.493,"j":-0.06},{"p":"d","a":"−","s":"+","v":0.507,"j":0.02},{"p":"d","a":"−","s":"+","v":0.473,"j":-0.01},{"p":"d","a":"−","s":"+","v":0.468,"j":-0.04},{"p":"d","a":"−","s":"+","v":0.465,"j":0.04},{"p":"d","a":"−","s":"+","v":0.457,"j":0.04},{"p":"d","a":"−","s":"+","v":0.456,"j":-0.08},{"p":"d","a":"−","s":"+","v":0.454,"j":-0.05},{"p":"d","a":"−","s":"+","v":0.456,"j":0.0},
{"p":"d","a":"−","s":"+","v":0.456,"j":0.07},{"p":"d","a":"−","s":"+","v":0.441,"j":-0.08},{"p":"d","a":"−","s":"+","v":0.441,"j":0.01},{"p":"d","a":"−","s":"+","v":0.439,"j":0.04},{"p":"d","a":"−","s":"+","v":0.429,"j":-0.02},{"p":"d","a":"−","s":"+","v":0.429,"j":-0.07},{"p":"d","a":"−","s":"+","v":0.407,"j":-0.09},{"p":"d","a":"−","s":"+","v":0.397,"j":0.06},{"p":"d","a":"−","s":"+","v":0.388,"j":0.05},{"p":"d","a":"−","s":"+","v":0.32,"j":-0.06},
{"p":"d","a":"−","s":"+","v":0.314,"j":-0.03},{"p":"d","a":"−","s":"+","v":0.316,"j":0.02},{"p":"d","a":"−","s":"+","v":0.31,"j":0.05},{"p":"d","a":"−","s":"+","v":0.299,"j":0.07},{"p":"d","a":"−","s":"+","v":0.303,"j":-0.08},{"p":"d","a":"−","s":"+","v":0.295,"j":-0.08},{"p":"d","a":"−","s":"+","v":0.286,"j":-0.08},{"p":"d","a":"−","s":"+","v":0.284,"j":-0.05},{"p":"d","a":"−","s":"+","v":0.301,"j":0.0},{"p":"d","a":"−","s":"+","v":0.286,"j":0.03},
{"p":"d","a":"−","s":"+","v":0.271,"j":-0.02},{"p":"d","a":"−","s":"+","v":0.269,"j":0.04},{"p":"d","a":"−","s":"+","v":0.267,"j":0.09},{"p":"d","a":"−","s":"+","v":0.259,"j":0.08},{"p":"d","a":"−","s":"+","v":0.252,"j":-0.08},{"p":"d","a":"−","s":"+","v":0.259,"j":-0.06},{"p":"d","a":"−","s":"+","v":0.252,"j":-0.05},{"p":"d","a":"−","s":"+","v":0.254,"j":-0.03},{"p":"d","a":"−","s":"+","v":0.254,"j":0.01},{"p":"d","a":"−","s":"+","v":0.231,"j":-0.02},
{"p":"d","a":"−","s":"+","v":0.224,"j":0.04},{"p":"d","a":"−","s":"+","v":0.227,"j":0.07},{"p":"d","a":"−","s":"+","v":0.215,"j":-0.09},{"p":"d","a":"−","s":"+","v":0.203,"j":-0.05},{"p":"d","a":"−","s":"+","v":0.199,"j":-0.05},{"p":"d","a":"−","s":"+","v":0.19,"j":-0.08},{"p":"d","a":"−","s":"+","v":0.181,"j":-0.08},{"p":"d","a":"−","s":"+","v":0.16,"j":-0.08},{"p":"d","a":"−","s":"+","v":0.154,"j":-0.01},{"p":"d","a":"−","s":"+","v":0.169,"j":0.05},
{"p":"d","a":"−","s":"+","v":0.167,"j":0.07},{"p":"d","a":"−","s":"+","v":0.148,"j":0.08},{"p":"d","a":"−","s":"+","v":0.135,"j":0.02},{"p":"d","a":"−","s":"+","v":0.126,"j":0.01},{"p":"d","a":"−","s":"+","v":0.115,"j":0.01},{"p":"d","a":"−","s":"+","v":0.118,"j":0.0},{"p":"d","a":"−","s":"+","v":0.109,"j":-0.01},{"p":"d","a":"−","s":"+","v":0.127,"j":0.06},{"p":"d","a":"−","s":"+","v":0.077,"j":0.05},{"p":"d","a":"−","s":"+","v":0.069,"j":0.04},
{"p":"d","a":"−","s":"+","v":0.007,"j":-0.08},{"p":"d","a":"−","s":"+","v":-0.005,"j":-0.08},{"p":"d","a":"−","s":"+","v":0.0,"j":-0.04},{"p":"d","a":"−","s":"+","v":0.007,"j":-0.03},{"p":"d","a":"−","s":"+","v":-0.006,"j":-0.01},
{"p":"d","a":"+","s":"−","v":1.007,"j":-0.06},{"p":"d","a":"+","s":"−","v":1.002,"j":-0.05},{"p":"d","a":"+","s":"−","v":0.812,"j":-0.04},{"p":"d","a":"+","s":"−","v":0.746,"j":0.05},{"p":"d","a":"+","s":"−","v":0.71,"j":-0.07},{"p":"d","a":"+","s":"−","v":0.711,"j":-0.05},{"p":"d","a":"+","s":"−","v":0.709,"j":0.07},{"p":"d","a":"+","s":"−","v":0.695,"j":-0.04},{"p":"d","a":"+","s":"−","v":0.667,"j":-0.02},{"p":"d","a":"+","s":"−","v":0.668,"j":0.07},
{"p":"d","a":"+","s":"−","v":0.649,"j":0.0},{"p":"d","a":"+","s":"−","v":0.624,"j":0.0},{"p":"d","a":"+","s":"−","v":0.618,"j":0.05},{"p":"d","a":"+","s":"−","v":0.624,"j":0.09},{"p":"d","a":"+","s":"−","v":0.605,"j":-0.02},{"p":"d","a":"+","s":"−","v":0.599,"j":0.03},{"p":"d","a":"+","s":"−","v":0.596,"j":0.08},{"p":"d","a":"+","s":"−","v":0.586,"j":0.07},{"p":"d","a":"+","s":"−","v":0.578,"j":-0.06},{"p":"d","a":"+","s":"−","v":0.59,"j":-0.03},
{"p":"d","a":"+","s":"−","v":0.567,"j":-0.04},{"p":"d","a":"+","s":"−","v":0.563,"j":-0.06},{"p":"d","a":"+","s":"−","v":0.559,"j":-0.08},{"p":"d","a":"+","s":"−","v":0.55,"j":-0.08},{"p":"d","a":"+","s":"−","v":0.554,"j":0.08},{"p":"d","a":"+","s":"−","v":0.496,"j":0.02},{"p":"d","a":"+","s":"−","v":0.501,"j":0.07},{"p":"d","a":"+","s":"−","v":0.493,"j":0.03},{"p":"d","a":"+","s":"−","v":0.48,"j":0.0},{"p":"d","a":"+","s":"−","v":0.462,"j":-0.06},
{"p":"d","a":"+","s":"−","v":0.461,"j":0.08},{"p":"d","a":"+","s":"−","v":0.421,"j":-0.06},{"p":"d","a":"+","s":"−","v":0.421,"j":0.0},{"p":"d","a":"+","s":"−","v":0.41,"j":0.01},{"p":"d","a":"+","s":"−","v":0.407,"j":0.02},{"p":"d","a":"+","s":"−","v":0.418,"j":0.03},{"p":"d","a":"+","s":"−","v":0.433,"j":0.04},{"p":"d","a":"+","s":"−","v":0.423,"j":0.08},{"p":"d","a":"+","s":"−","v":0.384,"j":-0.05},{"p":"d","a":"+","s":"−","v":0.371,"j":-0.06},
{"p":"d","a":"+","s":"−","v":0.37,"j":0.06},{"p":"d","a":"+","s":"−","v":0.354,"j":0.07},{"p":"d","a":"+","s":"−","v":0.34,"j":-0.05},{"p":"d","a":"+","s":"−","v":0.331,"j":-0.03},{"p":"d","a":"+","s":"−","v":0.329,"j":-0.06},{"p":"d","a":"+","s":"−","v":0.324,"j":0.03},{"p":"d","a":"+","s":"−","v":0.337,"j":0.05},{"p":"d","a":"+","s":"−","v":0.344,"j":0.06},{"p":"d","a":"+","s":"−","v":0.293,"j":0.0},{"p":"d","a":"+","s":"−","v":0.293,"j":0.07},
{"p":"d","a":"+","s":"−","v":0.286,"j":0.07},{"p":"d","a":"+","s":"−","v":0.284,"j":-0.07},{"p":"d","a":"+","s":"−","v":0.271,"j":0.0},{"p":"d","a":"+","s":"−","v":0.265,"j":-0.04},{"p":"d","a":"+","s":"−","v":0.259,"j":0.02},{"p":"d","a":"+","s":"−","v":0.26,"j":0.04},{"p":"d","a":"+","s":"−","v":0.265,"j":0.08},{"p":"d","a":"+","s":"−","v":0.259,"j":0.09},{"p":"d","a":"+","s":"−","v":0.252,"j":-0.06},{"p":"d","a":"+","s":"−","v":0.254,"j":-0.04},
{"p":"d","a":"+","s":"−","v":0.249,"j":0.05},{"p":"d","a":"+","s":"−","v":0.252,"j":0.08},{"p":"d","a":"+","s":"−","v":0.238,"j":-0.07},{"p":"d","a":"+","s":"−","v":0.241,"j":-0.05},{"p":"d","a":"+","s":"−","v":0.239,"j":-0.02},{"p":"d","a":"+","s":"−","v":0.232,"j":0.05},{"p":"d","a":"+","s":"−","v":0.216,"j":0.09},{"p":"d","a":"+","s":"−","v":0.212,"j":0.08},{"p":"d","a":"+","s":"−","v":0.224,"j":-0.04},{"p":"d","a":"+","s":"−","v":0.2,"j":-0.08},
{"p":"d","a":"+","s":"−","v":0.212,"j":-0.06},{"p":"d","a":"+","s":"−","v":0.2,"j":-0.06},{"p":"d","a":"+","s":"−","v":0.205,"j":-0.01},{"p":"d","a":"+","s":"−","v":0.191,"j":0.0},{"p":"d","a":"+","s":"−","v":0.201,"j":0.03},{"p":"d","a":"+","s":"−","v":0.19,"j":0.03},{"p":"d","a":"+","s":"−","v":0.19,"j":0.0},{"p":"d","a":"+","s":"−","v":0.184,"j":-0.07},{"p":"d","a":"+","s":"−","v":0.165,"j":-0.05},{"p":"d","a":"+","s":"−","v":0.17,"j":-0.06},
{"p":"d","a":"+","s":"−","v":0.167,"j":-0.02},{"p":"d","a":"+","s":"−","v":0.169,"j":0.0},{"p":"d","a":"+","s":"−","v":0.173,"j":0.03},{"p":"d","a":"+","s":"−","v":0.171,"j":0.07},{"p":"d","a":"+","s":"−","v":0.152,"j":-0.08},{"p":"d","a":"+","s":"−","v":0.149,"j":-0.06},{"p":"d","a":"+","s":"−","v":0.122,"j":0.03},{"p":"d","a":"+","s":"−","v":0.086,"j":-0.08},{"p":"d","a":"+","s":"−","v":0.095,"j":0.07},{"p":"d","a":"+","s":"−","v":0.071,"j":-0.04},
{"p":"d","a":"+","s":"−","v":0.072,"j":0.03},{"p":"d","a":"+","s":"−","v":0.053,"j":0.08},{"p":"d","a":"+","s":"−","v":0.047,"j":-0.06},{"p":"d","a":"+","s":"−","v":0.007,"j":0.06},
{"p":"d","a":"+","s":"+","v":0.999,"j":-0.02},{"p":"d","a":"+","s":"+","v":0.997,"j":0.06},{"p":"d","a":"+","s":"+","v":1.003,"j":0.09},{"p":"d","a":"+","s":"+","v":0.905,"j":0.04},{"p":"d","a":"+","s":"+","v":0.882,"j":-0.05},{"p":"d","a":"+","s":"+","v":0.883,"j":0.0},{"p":"d","a":"+","s":"+","v":0.84,"j":0.04},{"p":"d","a":"+","s":"+","v":0.822,"j":0.07},{"p":"d","a":"+","s":"+","v":0.789,"j":-0.04},{"p":"d","a":"+","s":"+","v":0.754,"j":0.0},
{"p":"d","a":"+","s":"+","v":0.759,"j":0.02},{"p":"d","a":"+","s":"+","v":0.72,"j":0.07},{"p":"d","a":"+","s":"+","v":0.693,"j":-0.03},{"p":"d","a":"+","s":"+","v":0.667,"j":0.03},{"p":"d","a":"+","s":"+","v":0.648,"j":-0.06},{"p":"d","a":"+","s":"+","v":0.637,"j":-0.07},{"p":"d","a":"+","s":"+","v":0.601,"j":-0.09},{"p":"d","a":"+","s":"+","v":0.596,"j":-0.04},{"p":"d","a":"+","s":"+","v":0.586,"j":0.06},{"p":"d","a":"+","s":"+","v":0.584,"j":0.08},
{"p":"d","a":"+","s":"+","v":0.569,"j":-0.06},{"p":"d","a":"+","s":"+","v":0.566,"j":0.05},{"p":"d","a":"+","s":"+","v":0.545,"j":0.09},{"p":"d","a":"+","s":"+","v":0.529,"j":0.01},{"p":"d","a":"+","s":"+","v":0.532,"j":0.04},{"p":"d","a":"+","s":"+","v":0.529,"j":0.06},{"p":"d","a":"+","s":"+","v":0.501,"j":-0.09},{"p":"d","a":"+","s":"+","v":0.505,"j":-0.08},{"p":"d","a":"+","s":"+","v":0.493,"j":-0.06},{"p":"d","a":"+","s":"+","v":0.484,"j":-0.04},
{"p":"d","a":"+","s":"+","v":0.493,"j":0.04},{"p":"d","a":"+","s":"+","v":0.479,"j":0.08},{"p":"d","a":"+","s":"+","v":0.449,"j":0.02},{"p":"d","a":"+","s":"+","v":0.439,"j":0.06},{"p":"d","a":"+","s":"+","v":0.426,"j":0.02},{"p":"d","a":"+","s":"+","v":0.417,"j":0.09},{"p":"d","a":"+","s":"+","v":0.41,"j":0.08},{"p":"d","a":"+","s":"+","v":0.388,"j":-0.05},{"p":"d","a":"+","s":"+","v":0.402,"j":0.03},{"p":"d","a":"+","s":"+","v":0.384,"j":0.04},
{"p":"d","a":"+","s":"+","v":0.386,"j":0.06},{"p":"d","a":"+","s":"+","v":0.367,"j":-0.03},{"p":"d","a":"+","s":"+","v":0.38,"j":0.02},{"p":"d","a":"+","s":"+","v":0.367,"j":0.05},{"p":"d","a":"+","s":"+","v":0.32,"j":-0.08},{"p":"d","a":"+","s":"+","v":0.318,"j":-0.07},{"p":"d","a":"+","s":"+","v":0.303,"j":-0.08},{"p":"d","a":"+","s":"+","v":0.314,"j":-0.09},{"p":"d","a":"+","s":"+","v":0.327,"j":-0.05},{"p":"d","a":"+","s":"+","v":0.329,"j":0.02},
{"p":"d","a":"+","s":"+","v":0.329,"j":0.06},{"p":"d","a":"+","s":"+","v":0.324,"j":0.08},{"p":"d","a":"+","s":"+","v":0.318,"j":0.08},{"p":"d","a":"+","s":"+","v":0.29,"j":-0.02},{"p":"d","a":"+","s":"+","v":0.269,"j":0.02},{"p":"d","a":"+","s":"+","v":0.282,"j":0.05},{"p":"d","a":"+","s":"+","v":0.278,"j":0.08},{"p":"d","a":"+","s":"+","v":0.267,"j":0.08},{"p":"d","a":"+","s":"+","v":0.25,"j":0.05},{"p":"d","a":"+","s":"+","v":0.254,"j":-0.04},
{"p":"d","a":"+","s":"+","v":0.235,"j":-0.05},{"p":"d","a":"+","s":"+","v":0.213,"j":-0.03},{"p":"d","a":"+","s":"+","v":0.205,"j":-0.07},{"p":"d","a":"+","s":"+","v":0.197,"j":-0.04},{"p":"d","a":"+","s":"+","v":0.19,"j":0.0},{"p":"d","a":"+","s":"+","v":0.184,"j":0.01},{"p":"d","a":"+","s":"+","v":0.169,"j":0.03},{"p":"d","a":"+","s":"+","v":0.195,"j":0.05},{"p":"d","a":"+","s":"+","v":0.197,"j":0.06},{"p":"d","a":"+","s":"+","v":0.193,"j":0.08},
{"p":"d","a":"+","s":"+","v":0.173,"j":-0.08},{"p":"d","a":"+","s":"+","v":0.165,"j":-0.08},{"p":"d","a":"+","s":"+","v":0.169,"j":-0.05},{"p":"d","a":"+","s":"+","v":0.141,"j":-0.03},{"p":"d","a":"+","s":"+","v":0.152,"j":-0.01},{"p":"d","a":"+","s":"+","v":0.146,"j":0.01},{"p":"d","a":"+","s":"+","v":0.167,"j":0.04},{"p":"d","a":"+","s":"+","v":0.144,"j":0.03},{"p":"d","a":"+","s":"+","v":0.139,"j":0.05},{"p":"d","a":"+","s":"+","v":0.137,"j":0.07},
{"p":"d","a":"+","s":"+","v":0.131,"j":0.07},{"p":"d","a":"+","s":"+","v":0.135,"j":-0.08},{"p":"d","a":"+","s":"+","v":0.109,"j":-0.05},{"p":"d","a":"+","s":"+","v":0.096,"j":-0.03},{"p":"d","a":"+","s":"+","v":0.112,"j":0.06},{"p":"d","a":"+","s":"+","v":0.077,"j":-0.05},{"p":"d","a":"+","s":"+","v":0.053,"j":0.07},{"p":"d","a":"+","s":"+","v":0.0,"j":-0.03},{"p":"d","a":"+","s":"+","v":0.009,"j":0.0},{"p":"d","a":"+","s":"+","v":0.011,"j":0.01},
{"p":"d","a":"+","s":"+","v":-0.005,"j":0.02},{"p":"d","a":"+","s":"+","v":0.007,"j":0.08}
]
},
"concat": [
{
 "width": 400, "height": 350,
 "title": {"text": "a", "orient": "left", "anchor": "end", "angle": 0, "align": "right", "baseline": "alphabetic", "dy": 11, "offset": -3, "fontSize": 22, "font": "Liberation Sans", "fontWeight": "normal", "color": "#000000"},
 "encoding": {"x": {"field": "a", "type": "nominal", "scale": {"domain": ["−", "+"], "paddingInner": 0, "paddingOuter": 0.1}, "axis": {"title": null, "labelExpr": "datum.label + 'azoxystrobin'", "grid": true, "bandPosition": 0.5, "labelAngle": 0}}},
 "layer": [
  {"data": {"name": "pts"}, "transform": [{"filter": "datum.p == 'a' && datum.s == '−'"}],
   "mark": {"type": "circle", "size": 16, "opacity": 0.5},
   "encoding": {
    "xOffset": {"field": "j", "type": "quantitative", "scale": {"domain": [-0.35, 0.65], "nice": false, "zero": false}},
    "y": {"field": "v", "type": "quantitative", "title": "Total offspring", "scale": {"domain": [-20.2, 430], "nice": false, "zero": false}, "axis": {"values": [0, 50, 100, 150, 200, 250, 300, 350, 400], "labelExpr": "datum.value % 100 == 0 ? datum.label : ''", "gridWidth": {"condition": {"test": "datum.value % 100 != 0", "value": 1.2}, "value": 2.2}, "tickOpacity": {"condition": {"test": "datum.value % 100 != 0", "value": 0}, "value": 1}}},
    "fill": {"field": "s", "type": "nominal", "scale": {"domain": ["−", "+"], "range": ["#333333", "#7AC5CD"]},
      "legend": {"orient": "none", "legendX": 15, "legendY": 268, "title": null, "padding": 0, "symbolType": "M-1,0H1M-0.234,0A0.234,0.234,0,1,1,0.234,0A0.234,0.234,0,1,1,-0.234,0Z", "symbolSize": 841, "symbolStrokeWidth": 2.7, "symbolOpacity": 1, "labelFont": "Noto Sans", "labelFontSize": 24.5, "labelColor": "#000000", "labelOffset": 13, "rowPadding": 6, "labelExpr": "datum.label + 'sulfoxaflor'", "encode": {"symbols": {"update": {"stroke": {"signal": "datum.value == '−' ? '#333333' : '#7AC5CD'"}, "strokeWidth": {"value": 2.7}, "opacity": {"value": 1}}}}}}
   }},
  {"data": {"name": "pts"}, "transform": [{"filter": "datum.p == 'a' && datum.s == '+'"}],
   "mark": {"type": "circle", "size": 16, "opacity": 0.5},
   "encoding": {
    "xOffset": {"field": "j", "type": "quantitative", "scale": {"domain": [-0.65, 0.35], "nice": false, "zero": false}},
    "y": {"field": "v", "type": "quantitative", "title": "Total offspring", "scale": {"domain": [-20.2, 430], "nice": false, "zero": false}, "axis": {"values": [0, 50, 100, 150, 200, 250, 300, 350, 400], "labelExpr": "datum.value % 100 == 0 ? datum.label : ''", "gridWidth": {"condition": {"test": "datum.value % 100 != 0", "value": 1.2}, "value": 2.2}, "tickOpacity": {"condition": {"test": "datum.value % 100 != 0", "value": 0}, "value": 1}}},
    "fill": {"field": "s", "type": "nominal", "scale": {"domain": ["−", "+"], "range": ["#333333", "#7AC5CD"]}, "legend": null}
   }},
  {"data": {"name": "sum"}, "transform": [{"filter": "datum.p == 'a'"}],
   "mark": {"type": "rule", "strokeWidth": 2.7},
   "encoding": {
    "xOffset": {"field": "s", "type": "nominal", "scale": {"type": "point", "domain": ["−", "+"], "padding": 1.1667}},
    "y": {"field": "lo", "type": "quantitative", "title": "Total offspring", "scale": {"domain": [-20.2, 430], "nice": false, "zero": false}, "axis": {"values": [0, 50, 100, 150, 200, 250, 300, 350, 400], "labelExpr": "datum.value % 100 == 0 ? datum.label : ''", "gridWidth": {"condition": {"test": "datum.value % 100 != 0", "value": 1.2}, "value": 2.2}, "tickOpacity": {"condition": {"test": "datum.value % 100 != 0", "value": 0}, "value": 1}}},
    "y2": {"field": "hi"},
    "stroke": {"field": "s", "type": "nominal", "scale": {"domain": ["−", "+"], "range": ["#333333", "#7AC5CD"]}, "legend": null}
   }},
  {"data": {"name": "sum"}, "transform": [{"filter": "datum.p == 'a'"}],
   "mark": {"type": "tick", "size": 46, "thickness": 2.7, "orient": "horizontal", "opacity": 1},
   "encoding": {
    "xOffset": {"field": "s", "type": "nominal", "scale": {"type": "point", "domain": ["−", "+"], "padding": 1.1667}},
    "y": {"field": "lo", "type": "quantitative", "title": "Total offspring", "scale": {"domain": [-20.2, 430], "nice": false, "zero": false}, "axis": {"values": [0, 50, 100, 150, 200, 250, 300, 350, 400], "labelExpr": "datum.value % 100 == 0 ? datum.label : ''", "gridWidth": {"condition": {"test": "datum.value % 100 != 0", "value": 1.2}, "value": 2.2}, "tickOpacity": {"condition": {"test": "datum.value % 100 != 0", "value": 0}, "value": 1}}},
    "fill": {"field": "s", "type": "nominal", "scale": {"domain": ["−", "+"], "range": ["#333333", "#7AC5CD"]}, "legend": null}
   }},
  {"data": {"name": "sum"}, "transform": [{"filter": "datum.p == 'a'"}],
   "mark": {"type": "tick", "size": 46, "thickness": 2.7, "orient": "horizontal", "opacity": 1},
   "encoding": {
    "xOffset": {"field": "s", "type": "nominal", "scale": {"type": "point", "domain": ["−", "+"], "padding": 1.1667}},
    "y": {"field": "hi", "type": "quantitative", "title": "Total offspring", "scale": {"domain": [-20.2, 430], "nice": false, "zero": false}, "axis": {"values": [0, 50, 100, 150, 200, 250, 300, 350, 400], "labelExpr": "datum.value % 100 == 0 ? datum.label : ''", "gridWidth": {"condition": {"test": "datum.value % 100 != 0", "value": 1.2}, "value": 2.2}, "tickOpacity": {"condition": {"test": "datum.value % 100 != 0", "value": 0}, "value": 1}}},
    "fill": {"field": "s", "type": "nominal", "scale": {"domain": ["−", "+"], "range": ["#333333", "#7AC5CD"]}, "legend": null}
   }},
  {"data": {"name": "sum"}, "transform": [{"filter": "datum.p == 'a'"}],
   "mark": {"type": "circle", "size": 45, "opacity": 1},
   "encoding": {
    "xOffset": {"field": "s", "type": "nominal", "scale": {"type": "point", "domain": ["−", "+"], "padding": 1.1667}},
    "y": {"field": "m", "type": "quantitative", "title": "Total offspring", "scale": {"domain": [-20.2, 430], "nice": false, "zero": false}, "axis": {"values": [0, 50, 100, 150, 200, 250, 300, 350, 400], "labelExpr": "datum.value % 100 == 0 ? datum.label : ''", "gridWidth": {"condition": {"test": "datum.value % 100 != 0", "value": 1.2}, "value": 2.2}, "tickOpacity": {"condition": {"test": "datum.value % 100 != 0", "value": 0}, "value": 1}}},
    "fill": {"field": "s", "type": "nominal", "scale": {"domain": ["−", "+"], "range": ["#333333", "#7AC5CD"]}, "legend": null}
   }}
 ],
 "resolve": {"scale": {"xOffset": "independent"}}
},
{
 "width": 397, "height": 350,
 "title": {"text": "b", "orient": "left", "anchor": "end", "angle": 0, "align": "right", "baseline": "alphabetic", "dy": 11, "offset": -3, "fontSize": 22, "font": "Liberation Sans", "fontWeight": "normal", "color": "#000000"},
 "encoding": {"x": {"field": "a", "type": "nominal", "scale": {"domain": ["−", "+"], "paddingInner": 0, "paddingOuter": 0.1}, "axis": {"title": null, "labelExpr": "datum.label + 'azoxystrobin'", "grid": true, "bandPosition": 0.5, "labelAngle": 0}}},
 "layer": [
  {"data": {"name": "pts"}, "transform": [{"filter": "datum.p == 'b' && datum.s == '−'"}],
   "mark": {"type": "circle", "size": 16, "opacity": 0.5},
   "encoding": {
    "xOffset": {"field": "j", "type": "quantitative", "scale": {"domain": [-0.35, 0.65], "nice": false, "zero": false}},
    "y": {"field": "v", "type": "quantitative", "title": "Total offspring in cocoon stage", "scale": {"domain": [-20.2, 430], "nice": false, "zero": false}, "axis": {"values": [0, 50, 100, 150, 200, 250, 300, 350, 400], "labelExpr": "datum.value % 100 == 0 ? datum.label : ''", "gridWidth": {"condition": {"test": "datum.value % 100 != 0", "value": 1.2}, "value": 2.2}, "tickOpacity": {"condition": {"test": "datum.value % 100 != 0", "value": 0}, "value": 1}}},
    "fill": {"field": "s", "type": "nominal", "scale": {"domain": ["−", "+"], "range": ["#333333", "#7AC5CD"]}, "legend": null}
   }},
  {"data": {"name": "pts"}, "transform": [{"filter": "datum.p == 'b' && datum.s == '+'"}],
   "mark": {"type": "circle", "size": 16, "opacity": 0.5},
   "encoding": {
    "xOffset": {"field": "j", "type": "quantitative", "scale": {"domain": [-0.65, 0.35], "nice": false, "zero": false}},
    "y": {"field": "v", "type": "quantitative", "title": "Total offspring in cocoon stage", "scale": {"domain": [-20.2, 430], "nice": false, "zero": false}, "axis": {"values": [0, 50, 100, 150, 200, 250, 300, 350, 400], "labelExpr": "datum.value % 100 == 0 ? datum.label : ''", "gridWidth": {"condition": {"test": "datum.value % 100 != 0", "value": 1.2}, "value": 2.2}, "tickOpacity": {"condition": {"test": "datum.value % 100 != 0", "value": 0}, "value": 1}}},
    "fill": {"field": "s", "type": "nominal", "scale": {"domain": ["−", "+"], "range": ["#333333", "#7AC5CD"]}, "legend": null}
   }},
  {"data": {"name": "sum"}, "transform": [{"filter": "datum.p == 'b'"}],
   "mark": {"type": "rule", "strokeWidth": 2.7},
   "encoding": {
    "xOffset": {"field": "s", "type": "nominal", "scale": {"type": "point", "domain": ["−", "+"], "padding": 1.1667}},
    "y": {"field": "lo", "type": "quantitative", "title": "Total offspring in cocoon stage", "scale": {"domain": [-20.2, 430], "nice": false, "zero": false}, "axis": {"values": [0, 50, 100, 150, 200, 250, 300, 350, 400], "labelExpr": "datum.value % 100 == 0 ? datum.label : ''", "gridWidth": {"condition": {"test": "datum.value % 100 != 0", "value": 1.2}, "value": 2.2}, "tickOpacity": {"condition": {"test": "datum.value % 100 != 0", "value": 0}, "value": 1}}},
    "y2": {"field": "hi"},
    "stroke": {"field": "s", "type": "nominal", "scale": {"domain": ["−", "+"], "range": ["#333333", "#7AC5CD"]}, "legend": null}
   }},
  {"data": {"name": "sum"}, "transform": [{"filter": "datum.p == 'b'"}],
   "mark": {"type": "tick", "size": 46, "thickness": 2.7, "orient": "horizontal", "opacity": 1},
   "encoding": {
    "xOffset": {"field": "s", "type": "nominal", "scale": {"type": "point", "domain": ["−", "+"], "padding": 1.1667}},
    "y": {"field": "lo", "type": "quantitative", "title": "Total offspring in cocoon stage", "scale": {"domain": [-20.2, 430], "nice": false, "zero": false}, "axis": {"values": [0, 50, 100, 150, 200, 250, 300, 350, 400], "labelExpr": "datum.value % 100 == 0 ? datum.label : ''", "gridWidth": {"condition": {"test": "datum.value % 100 != 0", "value": 1.2}, "value": 2.2}, "tickOpacity": {"condition": {"test": "datum.value % 100 != 0", "value": 0}, "value": 1}}},
    "fill": {"field": "s", "type": "nominal", "scale": {"domain": ["−", "+"], "range": ["#333333", "#7AC5CD"]}, "legend": null}
   }},
  {"data": {"name": "sum"}, "transform": [{"filter": "datum.p == 'b'"}],
   "mark": {"type": "tick", "size": 46, "thickness": 2.7, "orient": "horizontal", "opacity": 1},
   "encoding": {
    "xOffset": {"field": "s", "type": "nominal", "scale": {"type": "point", "domain": ["−", "+"], "padding": 1.1667}},
    "y": {"field": "hi", "type": "quantitative", "title": "Total offspring in cocoon stage", "scale": {"domain": [-20.2, 430], "nice": false, "zero": false}, "axis": {"values": [0, 50, 100, 150, 200, 250, 300, 350, 400], "labelExpr": "datum.value % 100 == 0 ? datum.label : ''", "gridWidth": {"condition": {"test": "datum.value % 100 != 0", "value": 1.2}, "value": 2.2}, "tickOpacity": {"condition": {"test": "datum.value % 100 != 0", "value": 0}, "value": 1}}},
    "fill": {"field": "s", "type": "nominal", "scale": {"domain": ["−", "+"], "range": ["#333333", "#7AC5CD"]}, "legend": null}
   }},
  {"data": {"name": "sum"}, "transform": [{"filter": "datum.p == 'b'"}],
   "mark": {"type": "circle", "size": 45, "opacity": 1},
   "encoding": {
    "xOffset": {"field": "s", "type": "nominal", "scale": {"type": "point", "domain": ["−", "+"], "padding": 1.1667}},
    "y": {"field": "m", "type": "quantitative", "title": "Total offspring in cocoon stage", "scale": {"domain": [-20.2, 430], "nice": false, "zero": false}, "axis": {"values": [0, 50, 100, 150, 200, 250, 300, 350, 400], "labelExpr": "datum.value % 100 == 0 ? datum.label : ''", "gridWidth": {"condition": {"test": "datum.value % 100 != 0", "value": 1.2}, "value": 2.2}, "tickOpacity": {"condition": {"test": "datum.value % 100 != 0", "value": 0}, "value": 1}}},
    "fill": {"field": "s", "type": "nominal", "scale": {"domain": ["−", "+"], "range": ["#333333", "#7AC5CD"]}, "legend": null}
   }}
 ],
 "resolve": {"scale": {"xOffset": "independent"}}
},
{
 "width": 400, "height": 350,
 "title": {"text": "c", "orient": "left", "anchor": "end", "angle": 0, "align": "right", "baseline": "alphabetic", "dy": 11, "offset": -3, "fontSize": 22, "font": "Liberation Sans", "fontWeight": "normal", "color": "#000000"},
 "encoding": {"x": {"field": "a", "type": "nominal", "scale": {"domain": ["−", "+"], "paddingInner": 0, "paddingOuter": 0.1}, "axis": {"title": null, "labelExpr": "datum.label + 'azoxystrobin'", "grid": true, "bandPosition": 0.5, "labelAngle": 0}}},
 "layer": [
  {"data": {"name": "pts"}, "transform": [{"filter": "datum.p == 'c' && datum.s == '−'"}],
   "mark": {"type": "circle", "size": 16, "opacity": 0.5},
   "encoding": {
    "xOffset": {"field": "j", "type": "quantitative", "scale": {"domain": [-0.35, 0.65], "nice": false, "zero": false}},
    "y": {"field": "v", "type": "quantitative", "title": "Offspring produced per day", "scale": {"domain": [-1.9, 55.7], "nice": false, "zero": false}, "axis": {"values": [0, 10, 20, 30, 40, 50], "labelExpr": "datum.value % 20 == 0 ? datum.label : ''", "gridWidth": {"condition": {"test": "datum.value % 20 != 0", "value": 1.2}, "value": 2.2}, "tickOpacity": {"condition": {"test": "datum.value % 20 != 0", "value": 0}, "value": 1}}},
    "fill": {"field": "s", "type": "nominal", "scale": {"domain": ["−", "+"], "range": ["#333333", "#7AC5CD"]}, "legend": null}
   }},
  {"data": {"name": "pts"}, "transform": [{"filter": "datum.p == 'c' && datum.s == '+'"}],
   "mark": {"type": "circle", "size": 16, "opacity": 0.5},
   "encoding": {
    "xOffset": {"field": "j", "type": "quantitative", "scale": {"domain": [-0.65, 0.35], "nice": false, "zero": false}},
    "y": {"field": "v", "type": "quantitative", "title": "Offspring produced per day", "scale": {"domain": [-1.9, 55.7], "nice": false, "zero": false}, "axis": {"values": [0, 10, 20, 30, 40, 50], "labelExpr": "datum.value % 20 == 0 ? datum.label : ''", "gridWidth": {"condition": {"test": "datum.value % 20 != 0", "value": 1.2}, "value": 2.2}, "tickOpacity": {"condition": {"test": "datum.value % 20 != 0", "value": 0}, "value": 1}}},
    "fill": {"field": "s", "type": "nominal", "scale": {"domain": ["−", "+"], "range": ["#333333", "#7AC5CD"]}, "legend": null}
   }},
  {"data": {"name": "sum"}, "transform": [{"filter": "datum.p == 'c'"}],
   "mark": {"type": "rule", "strokeWidth": 2.7},
   "encoding": {
    "xOffset": {"field": "s", "type": "nominal", "scale": {"type": "point", "domain": ["−", "+"], "padding": 1.1667}},
    "y": {"field": "lo", "type": "quantitative", "title": "Offspring produced per day", "scale": {"domain": [-1.9, 55.7], "nice": false, "zero": false}, "axis": {"values": [0, 10, 20, 30, 40, 50], "labelExpr": "datum.value % 20 == 0 ? datum.label : ''", "gridWidth": {"condition": {"test": "datum.value % 20 != 0", "value": 1.2}, "value": 2.2}, "tickOpacity": {"condition": {"test": "datum.value % 20 != 0", "value": 0}, "value": 1}}},
    "y2": {"field": "hi"},
    "stroke": {"field": "s", "type": "nominal", "scale": {"domain": ["−", "+"], "range": ["#333333", "#7AC5CD"]}, "legend": null}
   }},
  {"data": {"name": "sum"}, "transform": [{"filter": "datum.p == 'c'"}],
   "mark": {"type": "tick", "size": 46, "thickness": 2.7, "orient": "horizontal", "opacity": 1},
   "encoding": {
    "xOffset": {"field": "s", "type": "nominal", "scale": {"type": "point", "domain": ["−", "+"], "padding": 1.1667}},
    "y": {"field": "lo", "type": "quantitative", "title": "Offspring produced per day", "scale": {"domain": [-1.9, 55.7], "nice": false, "zero": false}, "axis": {"values": [0, 10, 20, 30, 40, 50], "labelExpr": "datum.value % 20 == 0 ? datum.label : ''", "gridWidth": {"condition": {"test": "datum.value % 20 != 0", "value": 1.2}, "value": 2.2}, "tickOpacity": {"condition": {"test": "datum.value % 20 != 0", "value": 0}, "value": 1}}},
    "fill": {"field": "s", "type": "nominal", "scale": {"domain": ["−", "+"], "range": ["#333333", "#7AC5CD"]}, "legend": null}
   }},
  {"data": {"name": "sum"}, "transform": [{"filter": "datum.p == 'c'"}],
   "mark": {"type": "tick", "size": 46, "thickness": 2.7, "orient": "horizontal", "opacity": 1},
   "encoding": {
    "xOffset": {"field": "s", "type": "nominal", "scale": {"type": "point", "domain": ["−", "+"], "padding": 1.1667}},
    "y": {"field": "hi", "type": "quantitative", "title": "Offspring produced per day", "scale": {"domain": [-1.9, 55.7], "nice": false, "zero": false}, "axis": {"values": [0, 10, 20, 30, 40, 50], "labelExpr": "datum.value % 20 == 0 ? datum.label : ''", "gridWidth": {"condition": {"test": "datum.value % 20 != 0", "value": 1.2}, "value": 2.2}, "tickOpacity": {"condition": {"test": "datum.value % 20 != 0", "value": 0}, "value": 1}}},
    "fill": {"field": "s", "type": "nominal", "scale": {"domain": ["−", "+"], "range": ["#333333", "#7AC5CD"]}, "legend": null}
   }},
  {"data": {"name": "sum"}, "transform": [{"filter": "datum.p == 'c'"}],
   "mark": {"type": "circle", "size": 45, "opacity": 1},
   "encoding": {
    "xOffset": {"field": "s", "type": "nominal", "scale": {"type": "point", "domain": ["−", "+"], "padding": 1.1667}},
    "y": {"field": "m", "type": "quantitative", "title": "Offspring produced per day", "scale": {"domain": [-1.9, 55.7], "nice": false, "zero": false}, "axis": {"values": [0, 10, 20, 30, 40, 50], "labelExpr": "datum.value % 20 == 0 ? datum.label : ''", "gridWidth": {"condition": {"test": "datum.value % 20 != 0", "value": 1.2}, "value": 2.2}, "tickOpacity": {"condition": {"test": "datum.value % 20 != 0", "value": 0}, "value": 1}}},
    "fill": {"field": "s", "type": "nominal", "scale": {"domain": ["−", "+"], "range": ["#333333", "#7AC5CD"]}, "legend": null}
   }}
 ],
 "resolve": {"scale": {"xOffset": "independent"}}
},
{
 "width": 397, "height": 350,
 "title": {"text": "d", "orient": "left", "anchor": "end", "angle": 0, "align": "right", "baseline": "alphabetic", "dy": 11, "offset": -3, "fontSize": 22, "font": "Liberation Sans", "fontWeight": "normal", "color": "#000000"},
 "encoding": {"x": {"field": "a", "type": "nominal", "scale": {"domain": ["−", "+"], "paddingInner": 0, "paddingOuter": 0.1}, "axis": {"title": null, "labelExpr": "datum.label + 'azoxystrobin'", "grid": true, "bandPosition": 0.5, "labelAngle": 0}}},
 "layer": [
  {"data": {"name": "pts"}, "transform": [{"filter": "datum.p == 'd' && datum.s == '−'"}],
   "mark": {"type": "circle", "size": 16, "opacity": 0.5},
   "encoding": {
    "xOffset": {"field": "j", "type": "quantitative", "scale": {"domain": [-0.35, 0.65], "nice": false, "zero": false}},
    "y": {"field": "v", "type": "quantitative", "title": "Proportion offspring mortality", "scale": {"domain": [-0.0587, 1.058], "nice": false, "zero": false}, "axis": {"values": [0, 0.125, 0.25, 0.375, 0.5, 0.625, 0.75, 0.875, 1], "format": ".2f", "labelExpr": "round(datum.value * 8) % 2 == 0 ? datum.label : ''", "gridWidth": {"condition": {"test": "round(datum.value * 8) % 2 != 0", "value": 1.2}, "value": 2.2}, "tickOpacity": {"condition": {"test": "round(datum.value * 8) % 2 != 0", "value": 0}, "value": 1}}},
    "fill": {"field": "s", "type": "nominal", "scale": {"domain": ["−", "+"], "range": ["#333333", "#7AC5CD"]}, "legend": null}
   }},
  {"data": {"name": "pts"}, "transform": [{"filter": "datum.p == 'd' && datum.s == '+'"}],
   "mark": {"type": "circle", "size": 16, "opacity": 0.5},
   "encoding": {
    "xOffset": {"field": "j", "type": "quantitative", "scale": {"domain": [-0.65, 0.35], "nice": false, "zero": false}},
    "y": {"field": "v", "type": "quantitative", "title": "Proportion offspring mortality", "scale": {"domain": [-0.0587, 1.058], "nice": false, "zero": false}, "axis": {"values": [0, 0.125, 0.25, 0.375, 0.5, 0.625, 0.75, 0.875, 1], "format": ".2f", "labelExpr": "round(datum.value * 8) % 2 == 0 ? datum.label : ''", "gridWidth": {"condition": {"test": "round(datum.value * 8) % 2 != 0", "value": 1.2}, "value": 2.2}, "tickOpacity": {"condition": {"test": "round(datum.value * 8) % 2 != 0", "value": 0}, "value": 1}}},
    "fill": {"field": "s", "type": "nominal", "scale": {"domain": ["−", "+"], "range": ["#333333", "#7AC5CD"]}, "legend": null}
   }},
  {"data": {"name": "sum"}, "transform": [{"filter": "datum.p == 'd'"}],
   "mark": {"type": "rule", "strokeWidth": 2.7},
   "encoding": {
    "xOffset": {"field": "s", "type": "nominal", "scale": {"type": "point", "domain": ["−", "+"], "padding": 1.1667}},
    "y": {"field": "lo", "type": "quantitative", "title": "Proportion offspring mortality", "scale": {"domain": [-0.0587, 1.058], "nice": false, "zero": false}, "axis": {"values": [0, 0.125, 0.25, 0.375, 0.5, 0.625, 0.75, 0.875, 1], "format": ".2f", "labelExpr": "round(datum.value * 8) % 2 == 0 ? datum.label : ''", "gridWidth": {"condition": {"test": "round(datum.value * 8) % 2 != 0", "value": 1.2}, "value": 2.2}, "tickOpacity": {"condition": {"test": "round(datum.value * 8) % 2 != 0", "value": 0}, "value": 1}}},
    "y2": {"field": "hi"},
    "stroke": {"field": "s", "type": "nominal", "scale": {"domain": ["−", "+"], "range": ["#333333", "#7AC5CD"]}, "legend": null}
   }},
  {"data": {"name": "sum"}, "transform": [{"filter": "datum.p == 'd'"}],
   "mark": {"type": "tick", "size": 46, "thickness": 2.7, "orient": "horizontal", "opacity": 1},
   "encoding": {
    "xOffset": {"field": "s", "type": "nominal", "scale": {"type": "point", "domain": ["−", "+"], "padding": 1.1667}},
    "y": {"field": "lo", "type": "quantitative", "title": "Proportion offspring mortality", "scale": {"domain": [-0.0587, 1.058], "nice": false, "zero": false}, "axis": {"values": [0, 0.125, 0.25, 0.375, 0.5, 0.625, 0.75, 0.875, 1], "format": ".2f", "labelExpr": "round(datum.value * 8) % 2 == 0 ? datum.label : ''", "gridWidth": {"condition": {"test": "round(datum.value * 8) % 2 != 0", "value": 1.2}, "value": 2.2}, "tickOpacity": {"condition": {"test": "round(datum.value * 8) % 2 != 0", "value": 0}, "value": 1}}},
    "fill": {"field": "s", "type": "nominal", "scale": {"domain": ["−", "+"], "range": ["#333333", "#7AC5CD"]}, "legend": null}
   }},
  {"data": {"name": "sum"}, "transform": [{"filter": "datum.p == 'd'"}],
   "mark": {"type": "tick", "size": 46, "thickness": 2.7, "orient": "horizontal", "opacity": 1},
   "encoding": {
    "xOffset": {"field": "s", "type": "nominal", "scale": {"type": "point", "domain": ["−", "+"], "padding": 1.1667}},
    "y": {"field": "hi", "type": "quantitative", "title": "Proportion offspring mortality", "scale": {"domain": [-0.0587, 1.058], "nice": false, "zero": false}, "axis": {"values": [0, 0.125, 0.25, 0.375, 0.5, 0.625, 0.75, 0.875, 1], "format": ".2f", "labelExpr": "round(datum.value * 8) % 2 == 0 ? datum.label : ''", "gridWidth": {"condition": {"test": "round(datum.value * 8) % 2 != 0", "value": 1.2}, "value": 2.2}, "tickOpacity": {"condition": {"test": "round(datum.value * 8) % 2 != 0", "value": 0}, "value": 1}}},
    "fill": {"field": "s", "type": "nominal", "scale": {"domain": ["−", "+"], "range": ["#333333", "#7AC5CD"]}, "legend": null}
   }},
  {"data": {"name": "sum"}, "transform": [{"filter": "datum.p == 'd'"}],
   "mark": {"type": "circle", "size": 45, "opacity": 1},
   "encoding": {
    "xOffset": {"field": "s", "type": "nominal", "scale": {"type": "point", "domain": ["−", "+"], "padding": 1.1667}},
    "y": {"field": "m", "type": "quantitative", "title": "Proportion offspring mortality", "scale": {"domain": [-0.0587, 1.058], "nice": false, "zero": false}, "axis": {"values": [0, 0.125, 0.25, 0.375, 0.5, 0.625, 0.75, 0.875, 1], "format": ".2f", "labelExpr": "round(datum.value * 8) % 2 == 0 ? datum.label : ''", "gridWidth": {"condition": {"test": "round(datum.value * 8) % 2 != 0", "value": 1.2}, "value": 2.2}, "tickOpacity": {"condition": {"test": "round(datum.value * 8) % 2 != 0", "value": 0}, "value": 1}}},
    "fill": {"field": "s", "type": "nominal", "scale": {"domain": ["−", "+"], "range": ["#333333", "#7AC5CD"]}, "legend": null}
   }}
 ],
 "resolve": {"scale": {"xOffset": "independent"}}
}
]
}
